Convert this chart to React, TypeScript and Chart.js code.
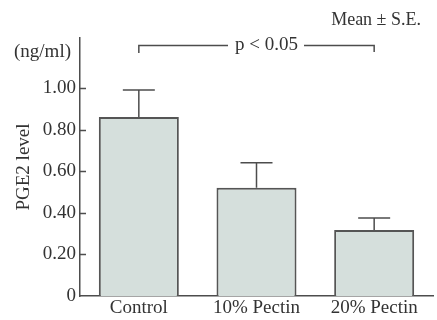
import React, { useEffect, useRef } from "react";
import { Chart, registerables } from "chart.js";
Chart.register(...registerables);

const categories = ["Control", "10% Pectin", "20% Pectin"];
const means = [0.86, 0.52, 0.317];
const errors = [0.13, 0.12, 0.058];
const yTickValues = [0, 0.2, 0.4, 0.6, 0.8, 1.0];
const yMax = 1.24;
const yTitle = "PGE2 level";
const unitLabel = "(ng/ml)";
const noteLabel = "Mean ± S.E.";
const sigLabel = "p < 0.05";

const FONT = "'Liberation Serif', 'Times New Roman', serif";
const TEXT = "#333333";
const LINE = "#4d4d4d";

const decorPlugin = {
  id: "decor",
  afterDatasetsDraw(chart: any) {
    const ctx = chart.ctx;
    const y = chart.scales.y;
    const meta = chart.getDatasetMeta(0);
    ctx.save();
    ctx.strokeStyle = LINE;
    ctx.lineWidth = 1.5;
    // error bars
    meta.data.forEach((bar: any, i: number) => {
      const x = bar.x;
      const top = y.getPixelForValue(means[i] + errors[i]);
      const base = y.getPixelForValue(means[i]);
      ctx.beginPath();
      ctx.moveTo(x, base);
      ctx.lineTo(x, top);
      ctx.moveTo(x - 16, top);
      ctx.lineTo(x + 16, top);
      ctx.stroke();
    });
    // inward ticks on y axis
    ctx.beginPath();
    yTickValues.filter((v) => v > 0).forEach((v) => {
      const py = Math.round(y.getPixelForValue(v)) + 0.5;
      ctx.moveTo(y.right, py);
      ctx.lineTo(y.right + 6, py);
    });
    ctx.stroke();
    // significance bracket
    const x0 = meta.data[0].x;
    const x2 = meta.data[2].x;
    const by = 45.5;
    const textCenter = (x0 + x2) / 2 + 10;
    ctx.font = `19px ${FONT}`;
    const tw = ctx.measureText(sigLabel).width;
    ctx.beginPath();
    ctx.moveTo(x0, 53);
    ctx.lineTo(x0, by);
    ctx.lineTo(textCenter - tw / 2 - 7, by);
    ctx.moveTo(textCenter + tw / 2 + 6, by);
    ctx.lineTo(x2, by);
    ctx.lineTo(x2, 52);
    ctx.stroke();
    ctx.fillStyle = TEXT;
    ctx.textBaseline = "middle";
    ctx.textAlign = "center";
    ctx.fillText(sigLabel, textCenter, by);
    // unit label
    ctx.textAlign = "left";
    ctx.fillText(unitLabel, 14, 52);
    // note label
    ctx.font = `18px ${FONT}`;
    ctx.textAlign = "right";
    ctx.fillText(noteLabel, 421, 20);
    ctx.restore();
  },
};

export default function App() {
  const ref = useRef<HTMLCanvasElement>(null);
  useEffect(() => {
    if (!ref.current) return;
    Chart.defaults.font.family = FONT;
    const chart = new Chart(ref.current, {
      type: "bar",
      data: {
        labels: categories,
        datasets: [
          {
            data: means,
            backgroundColor: "#d5dfdc",
            borderColor: "#555555",
            borderWidth: 2,
            barPercentage: 0.68,
            categoryPercentage: 1,
          },
        ],
      },
      options: {
        responsive: false,
        animation: false,
        devicePixelRatio: 1,
        layout: { padding: { top: 38, right: 4, left: 0, bottom: 0 } },
        plugins: { legend: { display: false }, tooltip: { enabled: false } },
        scales: {
          x: {
            grid: { display: false, drawTicks: false },
            border: { display: true, color: LINE, width: 1.5 },
            ticks: { color: TEXT, font: { size: 19, family: FONT }, padding: 1, maxRotation: 0 },
            afterFit: (s: any) => {
              s.height = 24;
            },
          },
          y: {
            min: 0,
            max: yMax,
            afterBuildTicks: (s: any) => {
              s.ticks = yTickValues.map((v) => ({ value: v }));
            },
            grid: { display: false, drawTicks: false },
            border: { display: true, color: LINE, width: 1.5 },
            ticks: {
              color: TEXT,
              font: { size: 19, family: FONT },
              padding: 4,
              callback: (v: any) => (Number(v) === 0 ? "0" : Number(v).toFixed(2)),
            },
            title: {
              display: true,
              text: yTitle,
              color: TEXT,
              font: { size: 19, family: FONT },
              padding: { top: 13, bottom: 0 },
            },
            afterFit: (s: any) => {
              s.width = 80;
            },
          },
        },
      },
      plugins: [decorPlugin],
    });
    return () => chart.destroy();
  }, []);
  return (
    <div style={{ position: "fixed", left: 0, top: 0, width: 437, height: 320, background: "#fff" }}>
      <canvas ref={ref} width={437} height={320} />
    </div>
  );
}
